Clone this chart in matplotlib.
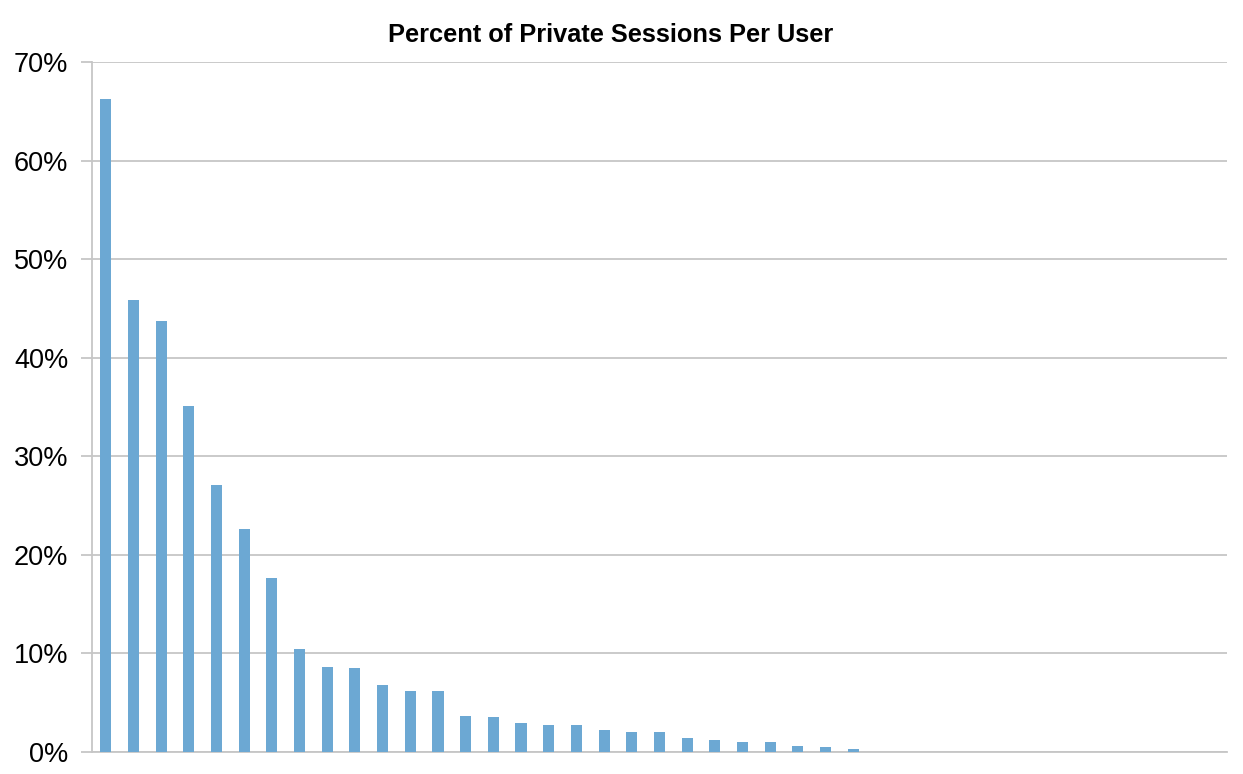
import matplotlib
matplotlib.use('Agg')
import matplotlib.pyplot as plt
from matplotlib.ticker import FuncFormatter

plt.rcParams['font.family'] = ['Liberation Sans', 'DejaVu Sans']

# percent of private sessions, one bar per user bucket (41 buckets, tail is empty)
pct = [66.2, 45.9, 43.7, 35.1, 27.1, 22.6, 17.7, 10.4, 8.6, 8.5,
       6.8, 6.2, 6.2, 3.65, 3.6, 2.9, 2.7, 2.7, 2.2, 2.0,
       2.0, 1.4, 1.26, 1.0, 1.0, 0.6, 0.5, 0.27]
pct = pct + [0] * (41 - len(pct))
x = list(range(len(pct)))
yticks = [0, 10, 20, 30, 40, 50, 60, 70]

grey = '#c6c6c6'
fig = plt.figure(figsize=(12.43, 7.74), dpi=100)
ax = fig.add_axes([0.074, 0.0284, 0.913, 0.8916])
ax.bar(x, pct, width=0.4, color='#6ca8d3', zorder=3)
ax.set_xlim(-0.5, len(pct) - 0.5)
ax.set_ylim(0, 70)
ax.set_yticks(yticks)
ax.yaxis.set_major_formatter(FuncFormatter(lambda v, p: '%d%%' % v))
ax.set_xticks([])
ax.grid(axis='y', color=grey, linewidth=1.3, zorder=1)
for s in ['top', 'right']:
    ax.spines[s].set_visible(False)
for s in ['left', 'bottom']:
    ax.spines[s].set_color(grey)
    ax.spines[s].set_linewidth(1.3)
ax.tick_params(axis='y', length=8, width=1.3, color=grey, labelsize=19.5, pad=9)
fig.text(0.491, 0.955, 'Percent of Private Sessions Per User', fontsize=18.3,
         fontweight='bold', ha='center', va='center')
fig.savefig('out.png')
